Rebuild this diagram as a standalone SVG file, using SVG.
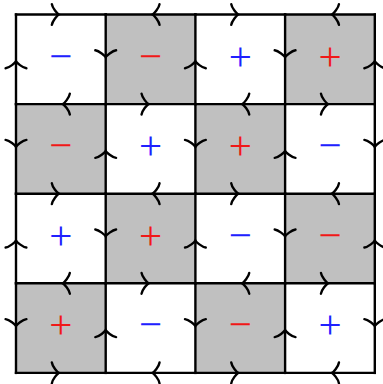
<svg xmlns="http://www.w3.org/2000/svg" width="383" height="384" viewBox="0 0 383 384">
<style>
.w{fill:#ffffff}
.g{fill:#c0c0c0}
.s{font-family:"Liberation Serif","Times New Roman",serif;font-size:41px;text-anchor:middle}
.b{fill:#2020ff}
.r{fill:#f01818}
.e{fill:none;stroke:#000;stroke-width:2.4;stroke-linecap:square;marker-mid:url(#a)}
</style>
<defs>
<marker id="a" markerUnits="userSpaceOnUse" orient="auto" overflow="visible" markerWidth="1" markerHeight="1" refX="0" refY="0">
<path d="M-9,-10.4 C-8.5,-6.5 -3.4,-0.65 -2,0 C-3.4,0.65 -8.5,6.5 -9,10.4" fill="none" stroke="#000" stroke-width="2.4" stroke-linecap="round"/>
</marker>
</defs>
<rect width="383" height="384" fill="#fff"/>
<g id="c00"><rect class="w" x="16" y="14.5" width="89.7" height="89.6"/><text class="s b" x="60.85" y="69.6">−</text></g>
<g id="c01"><rect class="g" x="105.7" y="14.5" width="89.7" height="89.6"/><text class="s r" x="150.55" y="69.6">−</text></g>
<g id="c02"><rect class="w" x="195.4" y="14.5" width="89.7" height="89.6"/><text class="s b" x="240.25" y="69.6">+</text></g>
<g id="c03"><rect class="g" x="285.1" y="14.5" width="89.7" height="89.6"/><text class="s r" x="329.95" y="69.6">+</text></g>
<g id="c10"><rect class="g" x="16" y="104.1" width="89.7" height="89.6"/><text class="s r" x="60.85" y="159.2">−</text></g>
<g id="c11"><rect class="w" x="105.7" y="104.1" width="89.7" height="89.6"/><text class="s b" x="150.55" y="159.2">+</text></g>
<g id="c12"><rect class="g" x="195.4" y="104.1" width="89.7" height="89.6"/><text class="s r" x="240.25" y="159.2">+</text></g>
<g id="c13"><rect class="w" x="285.1" y="104.1" width="89.7" height="89.6"/><text class="s b" x="329.95" y="159.2">−</text></g>
<g id="c20"><rect class="w" x="16" y="193.7" width="89.7" height="89.6"/><text class="s b" x="60.85" y="248.8">+</text></g>
<g id="c21"><rect class="g" x="105.7" y="193.7" width="89.7" height="89.6"/><text class="s r" x="150.55" y="248.8">+</text></g>
<g id="c22"><rect class="w" x="195.4" y="193.7" width="89.7" height="89.6"/><text class="s b" x="240.25" y="248.8">−</text></g>
<g id="c23"><rect class="g" x="285.1" y="193.7" width="89.7" height="89.6"/><text class="s r" x="329.95" y="248.8">−</text></g>
<g id="c30"><rect class="g" x="16" y="283.3" width="89.7" height="89.6"/><text class="s r" x="60.85" y="338.4">+</text></g>
<g id="c31"><rect class="w" x="105.7" y="283.3" width="89.7" height="89.6"/><text class="s b" x="150.55" y="338.4">−</text></g>
<g id="c32"><rect class="g" x="195.4" y="283.3" width="89.7" height="89.6"/><text class="s r" x="240.25" y="338.4">−</text></g>
<g id="c33"><rect class="w" x="285.1" y="283.3" width="89.7" height="89.6"/><text class="s b" x="329.95" y="338.4">+</text></g>
<g id="connectors">
<path class="e" d="M16 14.5L60.85 14.5L105.7 14.5"/>
<path class="e" d="M195.4 14.5L150.55 14.5L105.7 14.5"/>
<path class="e" d="M195.4 14.5L240.25 14.5L285.1 14.5"/>
<path class="e" d="M374.8 14.5L329.95 14.5L285.1 14.5"/>
<path class="e" d="M105.7 104.1L60.85 104.1L16 104.1"/>
<path class="e" d="M105.7 104.1L150.55 104.1L195.4 104.1"/>
<path class="e" d="M285.1 104.1L240.25 104.1L195.4 104.1"/>
<path class="e" d="M285.1 104.1L329.95 104.1L374.8 104.1"/>
<path class="e" d="M16 193.7L60.85 193.7L105.7 193.7"/>
<path class="e" d="M195.4 193.7L150.55 193.7L105.7 193.7"/>
<path class="e" d="M195.4 193.7L240.25 193.7L285.1 193.7"/>
<path class="e" d="M374.8 193.7L329.95 193.7L285.1 193.7"/>
<path class="e" d="M105.7 283.3L60.85 283.3L16 283.3"/>
<path class="e" d="M105.7 283.3L150.55 283.3L195.4 283.3"/>
<path class="e" d="M285.1 283.3L240.25 283.3L195.4 283.3"/>
<path class="e" d="M285.1 283.3L329.95 283.3L374.8 283.3"/>
<path class="e" d="M16 372.9L60.85 372.9L105.7 372.9"/>
<path class="e" d="M195.4 372.9L150.55 372.9L105.7 372.9"/>
<path class="e" d="M195.4 372.9L240.25 372.9L285.1 372.9"/>
<path class="e" d="M374.8 372.9L329.95 372.9L285.1 372.9"/>
<path class="e" d="M16 104.1L16 59.3L16 14.5"/>
<path class="e" d="M16 104.1L16 148.9L16 193.7"/>
<path class="e" d="M16 283.3L16 238.5L16 193.7"/>
<path class="e" d="M16 283.3L16 328.1L16 372.9"/>
<path class="e" d="M105.7 14.5L105.7 59.3L105.7 104.1"/>
<path class="e" d="M105.7 193.7L105.7 148.9L105.7 104.1"/>
<path class="e" d="M105.7 193.7L105.7 238.5L105.7 283.3"/>
<path class="e" d="M105.7 372.9L105.7 328.1L105.7 283.3"/>
<path class="e" d="M195.4 104.1L195.4 59.3L195.4 14.5"/>
<path class="e" d="M195.4 104.1L195.4 148.9L195.4 193.7"/>
<path class="e" d="M195.4 283.3L195.4 238.5L195.4 193.7"/>
<path class="e" d="M195.4 283.3L195.4 328.1L195.4 372.9"/>
<path class="e" d="M285.1 14.5L285.1 59.3L285.1 104.1"/>
<path class="e" d="M285.1 193.7L285.1 148.9L285.1 104.1"/>
<path class="e" d="M285.1 193.7L285.1 238.5L285.1 283.3"/>
<path class="e" d="M285.1 372.9L285.1 328.1L285.1 283.3"/>
<path class="e" d="M374.8 104.1L374.8 59.3L374.8 14.5"/>
<path class="e" d="M374.8 104.1L374.8 148.9L374.8 193.7"/>
<path class="e" d="M374.8 283.3L374.8 238.5L374.8 193.7"/>
<path class="e" d="M374.8 283.3L374.8 328.1L374.8 372.9"/>
</g>
</svg>
